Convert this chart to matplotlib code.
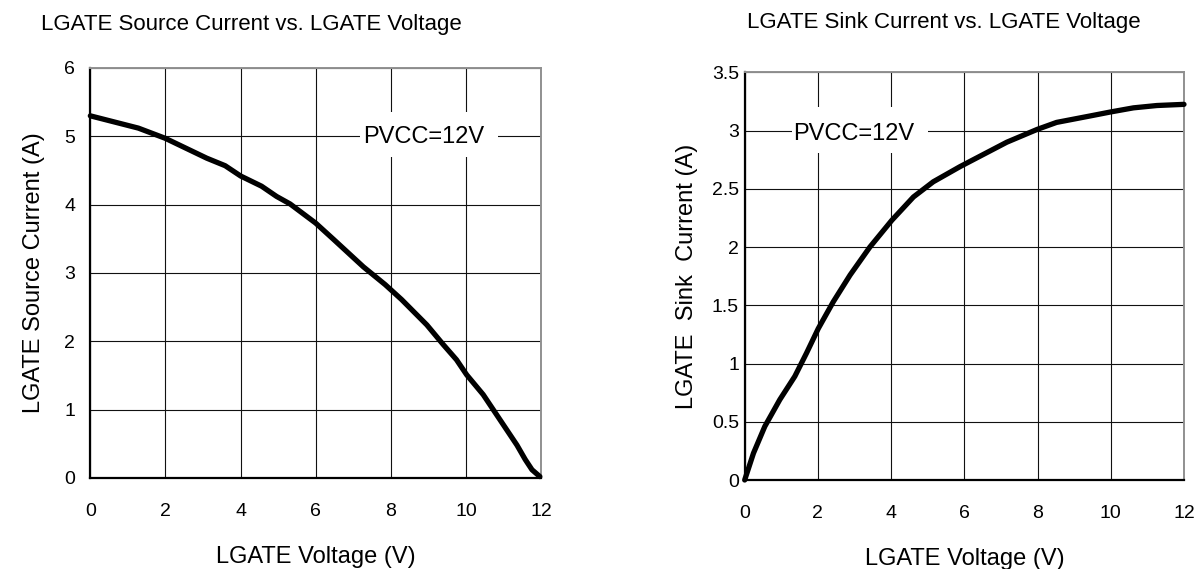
import numpy as np
import matplotlib.pyplot as plt
from matplotlib.patches import Rectangle

plt.rcParams['font.family'] = ['Liberation Sans', 'DejaVu Sans']

# ---- data ----
src_v = [0, 1.28, 2.0, 3.1, 3.59, 4.0, 4.56, 4.96, 5.32, 6.0, 6.48, 7.27, 7.85,
         8.29, 8.96, 9.40, 9.75, 10.02, 10.46, 10.91, 11.36, 11.58, 11.76, 11.97]
src_i = [5.30, 5.12, 4.97, 4.68, 4.57, 4.42, 4.27, 4.12, 4.01, 3.73, 3.49, 3.09, 2.83,
         2.61, 2.24, 1.95, 1.73, 1.51, 1.22, 0.85, 0.48, 0.27, 0.12, 0.02]

sink_v = [0, 0.24, 0.55, 0.96, 1.37, 1.69, 2.01, 2.42, 2.88, 3.42, 4.02, 4.61, 5.15,
          5.88, 7.16, 7.99, 8.52, 9.43, 10.0, 10.62, 11.26, 12.0]
sink_i = [0, 0.23, 0.46, 0.69, 0.89, 1.09, 1.30, 1.53, 1.76, 2.00, 2.23, 2.43, 2.56,
          2.69, 2.90, 3.01, 3.07, 3.125, 3.16, 3.195, 3.215, 3.225]

x_ticks = [0, 2, 4, 6, 8, 10, 12]
src_yticks = [0, 1, 2, 3, 4, 5, 6]
sink_yticks = [0, 0.5, 1, 1.5, 2, 2.5, 3, 3.5]
sink_ylabels = ['0', '0.5', '1', '1.5', '2', '2.5', '3', '3.5']

fig = plt.figure(figsize=(11.98, 5.69), dpi=100)
ax1 = fig.add_axes([0.0754, 0.160, 0.3762, 0.7205])
ax2 = fig.add_axes([0.6216, 0.1564, 0.3667, 0.7165])


def style(ax, yticks, ylabels, ypad):
    ax.set_xlim(0, 12)
    ax.set_ylim(yticks[0], yticks[-1])
    ax.set_xticks(x_ticks)
    ax.set_yticks(yticks)
    ax.set_yticklabels(ylabels)
    ax.tick_params(axis='both', length=0, labelsize=14)
    ax.tick_params(axis='x', pad=18)
    ax.tick_params(axis='y', pad=ypad)
    ax.grid(True, color='#111111', lw=0.8)
    ax.set_axisbelow(True)
    for s in ['left', 'bottom']:
        ax.spines[s].set_color('black')
        ax.spines[s].set_linewidth(1.6)
    for s in ['top', 'right']:
        ax.spines[s].set_color('#909090')
        ax.spines[s].set_linewidth(1.4)
    ax.set_xlabel('LGATE Voltage (V)', fontsize=17, labelpad=19)


style(ax1, src_yticks, [str(t) for t in src_yticks], 11)
style(ax2, sink_yticks, sink_ylabels, 4)

ax1.plot(src_v, src_i, color='black', lw=3.8, solid_capstyle='round',
         solid_joinstyle='round', clip_on=False, zorder=5)
ax2.plot(sink_v, sink_i, color='black', lw=3.8, solid_capstyle='round',
         solid_joinstyle='round', clip_on=False, zorder=5)

ax1.set_ylabel('LGATE Source Current (A)', fontsize=17, labelpad=14)
ax2.set_ylabel('LGATE  Sink  Current (A)', fontsize=17, labelpad=10)

# PVCC labels with white boxes that break the grid
ax1.add_patch(Rectangle((7.18, 4.70), 3.67, 0.66, facecolor='white', edgecolor='none', zorder=3))
ax1.text(7.26, 4.90, 'PVCC=12V', fontsize=17, va='baseline', ha='left', zorder=4)
ax2.add_patch(Rectangle((1.29, 2.81), 3.72, 0.39, facecolor='white', edgecolor='none', zorder=3))
ax2.text(1.32, 2.92, 'PVCC=12V', fontsize=17, va='baseline', ha='left', zorder=4)

fig.text(0.21, 0.957, 'LGATE Source Current vs. LGATE Voltage', fontsize=16, ha='center', va='center')
fig.text(0.788, 0.960, 'LGATE Sink Current vs. LGATE Voltage', fontsize=16, ha='center', va='center')

fig.savefig('out.png', dpi=100)
